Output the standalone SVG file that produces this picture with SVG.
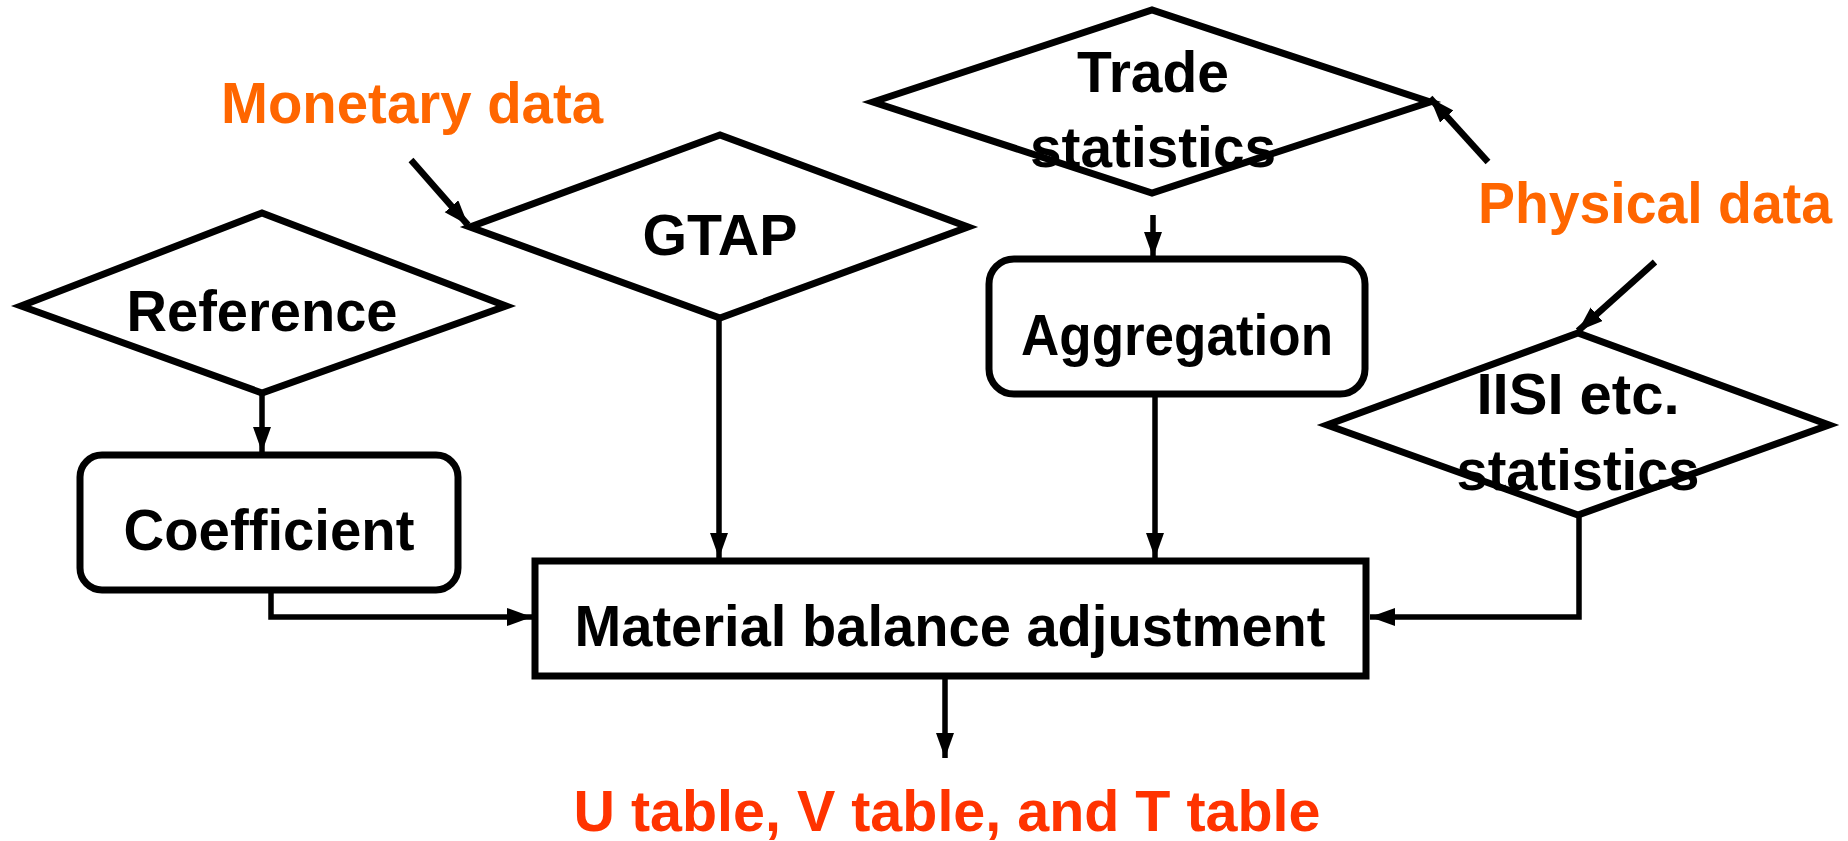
<svg xmlns="http://www.w3.org/2000/svg" width="1848" height="841" viewBox="0 0 1848 841">
<defs>
<style>
.shape{fill:#fff;stroke:#000;stroke-width:7;stroke-linejoin:miter}
.t{font-family:"Liberation Sans",Arial,sans-serif;font-size:58px;font-weight:bold;fill:#000;text-anchor:middle}
.o{fill:#FF6600}
.r{fill:#FF3300}
.c{fill:none;stroke:#000;stroke-width:5.5}
.d{fill:none;stroke:#000;stroke-width:6.5}
</style>
<marker id="ah" markerUnits="userSpaceOnUse" markerWidth="28" markerHeight="20" refX="25" refY="9" orient="auto">
<path d="M0,0 L25,9 L0,18 z" fill="#000"/>
</marker>
</defs>
<rect width="1848" height="841" fill="#fff"/>

<g id="connectors">
<line class="d" x1="411" y1="160" x2="468" y2="225" marker-end="url(#ah)"/>
<line class="d" x1="1488" y1="162" x2="1430" y2="98" marker-end="url(#ah)"/>
<line class="d" x1="1655" y1="262" x2="1578" y2="331" marker-end="url(#ah)"/>
<line class="c" x1="1153" y1="215" x2="1153" y2="257" marker-end="url(#ah)"/>
<line class="c" x1="262" y1="393" x2="262" y2="452" marker-end="url(#ah)"/>
<line class="c" x1="719" y1="318" x2="719" y2="558" marker-end="url(#ah)"/>
<line class="c" x1="1155" y1="395" x2="1155" y2="558" marker-end="url(#ah)"/>
<polyline class="c" points="271,592 271,617 532,617" marker-end="url(#ah)"/>
<polyline class="c" points="1579,516 1579,617 1370,617" marker-end="url(#ah)"/>
<line class="c" x1="945" y1="677" x2="945" y2="758" marker-end="url(#ah)"/>
</g>

<g id="monetary">
<text class="t o" x="412" y="123" textLength="382" lengthAdjust="spacingAndGlyphs">Monetary data</text>
</g>
<g id="physical">
<text class="t o" x="1655" y="223" textLength="354" lengthAdjust="spacingAndGlyphs">Physical data</text>
</g>

<g id="reference">
<polygon class="shape" points="21,306 262,213 506,306 262,393"/>
<text class="t" x="262" y="331" textLength="271" lengthAdjust="spacingAndGlyphs">Reference</text>
</g>

<g id="gtap">
<polygon class="shape" points="470,227 720,135 968,227 720,318"/>
<text class="t" x="720" y="255" textLength="155" lengthAdjust="spacingAndGlyphs">GTAP</text>
</g>

<g id="trade">
<polygon class="shape" points="873,102 1152,10 1430,102 1152,193"/>
<text class="t" x="1153" y="92" textLength="152" lengthAdjust="spacingAndGlyphs">Trade</text>
<text class="t" x="1153" y="167" textLength="246" lengthAdjust="spacingAndGlyphs">statistics</text>
</g>

<g id="aggregation">
<rect class="shape" x="989" y="259" width="376" height="135" rx="25"/>
<text class="t" x="1177" y="355" textLength="312" lengthAdjust="spacingAndGlyphs">Aggregation</text>
</g>

<g id="iisi">
<polygon class="shape" points="1327,425 1578,333 1829,425 1578,515"/>
<text class="t" x="1578" y="414" textLength="203" lengthAdjust="spacingAndGlyphs">IISI etc.</text>
<text class="t" x="1578" y="490" textLength="243" lengthAdjust="spacingAndGlyphs">statistics</text>
</g>

<g id="coefficient">
<rect class="shape" x="80" y="455" width="378" height="135" rx="22"/>
<text class="t" x="269" y="550" textLength="291" lengthAdjust="spacingAndGlyphs">Coefficient</text>
</g>

<g id="material">
<rect class="shape" x="535" y="561" width="831" height="115"/>
<text class="t" x="950" y="646" textLength="751" lengthAdjust="spacingAndGlyphs">Material balance adjustment</text>
</g>

<g id="output">
<text class="t r" x="947" y="831" textLength="747" lengthAdjust="spacingAndGlyphs">U table, V table, and T table</text>
</g>
</svg>
